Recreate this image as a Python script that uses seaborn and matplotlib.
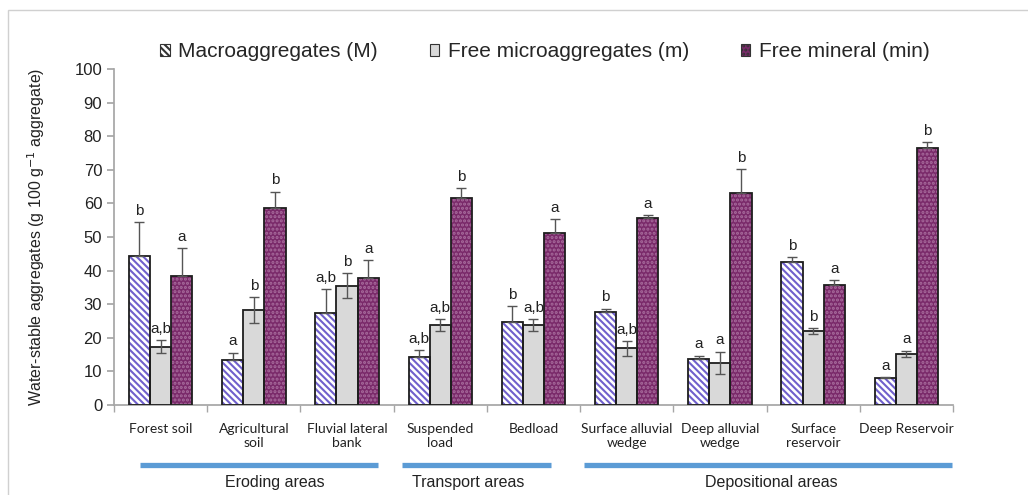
"""Water-stable aggregate fractions along the eroding-transport-depositional sequence."""

import matplotlib
matplotlib.use("Agg")
import matplotlib.pyplot as plt
import pandas as pd
import seaborn as sns
from matplotlib.patches import Patch, Rectangle

CATEGORIES = [
    "Forest soil",
    "Agricultural\nsoil",
    "Fluvial lateral\nbank",
    "Suspended\nload",
    "Bedload",
    "Surface alluvial\nwedge",
    "Deep alluvial\nwedge",
    "Surface\nreservoir",
    "Deep Reservoir",
]
SERIES = ["Macroaggregates (M)", "Free microaggregates (m)", "Free mineral (min)"]

macro = [44.3, 13.4, 27.5, 14.4, 24.7, 27.6, 13.7, 42.6, 7.9]
macro_err = [10.2, 2.2, 6.9, 2.0, 4.8, 1.1, 1.0, 1.5, 0.3]
micro = [17.4, 28.3, 35.5, 23.8, 23.8, 16.9, 12.6, 22.0, 15.2]
micro_err = [2.0, 3.9, 3.7, 1.8, 1.8, 2.2, 3.3, 0.8, 1.0]
mineral = [38.4, 58.5, 37.7, 61.7, 51.1, 55.6, 63.0, 35.6, 76.6]
mineral_err = [8.2, 5.0, 5.5, 2.8, 4.2, 0.9, 7.2, 1.6, 1.6]

macro_letters = ["b", "a", "a,b", "a,b", "b", "b", "a", "b", "a"]
micro_letters = ["a,b", "b", "b", "a,b", "a,b", "a,b", "a", "b", "a"]
mineral_letters = ["a", "b", "a", "b", "a", "a", "b", "a", "b"]

GROUPS = ["Eroding areas", "Transport areas", "Depositional areas"]
# line spans and label centres in category units (layout only)
GROUP_SPANS = [(-0.22, 2.33), (2.59, 4.19), (4.54, 8.49)]
GROUP_LABEL_X = [1.22, 3.30, 6.55]

# style per series: face, hatch colour, hatch, upper-only error bars
STYLES = [
    ("white", "#7060cc", "\\\\\\\\\\", True),
    ("#d9d9d9", "#d9d9d9", None, False),
    ("#7a2a6a", "#a86c9d", "....", True),
]


def main() -> None:
    sns.set_theme(style="white")
    plt.rcParams["font.family"] = ["Liberation Sans", "DejaVu Sans"]
    plt.rcParams["hatch.linewidth"] = 1.5

    values = [macro, micro, mineral]
    errors = [macro_err, micro_err, mineral_err]
    letters = [macro_letters, micro_letters, mineral_letters]

    df = pd.DataFrame(
        {
            "site": CATEGORIES * 3,
            "fraction": [s for s in SERIES for _ in CATEGORIES],
            "value": macro + micro + mineral,
        }
    )

    fig = plt.figure(figsize=(10.28, 4.95), dpi=100)
    ax = fig.add_axes([0.1109, 0.1818, 0.8161, 0.6788])

    sns.barplot(
        data=df, x="site", y="value", hue="fraction", order=CATEGORIES,
        hue_order=SERIES, palette=[s[0] for s in STYLES], width=0.68, gap=0,
        errorbar=None, legend=False, ax=ax,
    )

    for cont, (face, hcol, hatch, upper_only), vals, errs, labs in zip(
        ax.containers, STYLES, values, errors, letters
    ):
        xs = []
        for bar in cont:
            bar.set_facecolor(face)
            bar.set_edgecolor(hcol)
            bar.set_linewidth(0)
            if hatch:
                bar.set_hatch(hatch)
            ax.add_patch(Rectangle(bar.get_xy(), bar.get_width(), bar.get_height(),
                                   fill=False, ec="#1e1e1e", lw=1.3, zorder=3))
            xs.append(bar.get_x() + bar.get_width() / 2)
        yerr = [[0] * len(errs), errs] if upper_only else errs
        ax.errorbar(xs, vals, yerr=yerr, fmt="none", ecolor="#555555",
                    elinewidth=1, capsize=3.5, capthick=1, zorder=4)
        for x, v, e, lab in zip(xs, vals, errs, labs):
            ax.annotate(lab, (x, v + e), xytext=(0, 3), textcoords="offset points",
                        ha="center", va="bottom", fontsize=11, color="#222222")

    ax.set_ylim(0, 100)
    ax.set_xlim(-0.5, len(CATEGORIES) - 0.5)
    ax.set_yticks(range(0, 101, 10))
    ax.set_xlabel("")
    ax.set_ylabel("Water-stable aggregates (g 100 g$^{-1}$ aggregate)", fontsize=11.5,
                  color="#222222")
    ax.yaxis.set_label_coords(-0.08, 0.5)
    for side in ["top", "right"]:
        ax.spines[side].set_visible(False)
    for side in ["left", "bottom"]:
        ax.spines[side].set_color("#a6a6a6")
    ax.tick_params(axis="y", left=True, length=5, color="#a6a6a6", labelsize=12,
                   labelcolor="#222222", direction="out")
    ax.set_xticks([i - 0.5 for i in range(len(CATEGORIES) + 1)], minor=True)
    ax.tick_params(axis="x", which="minor", bottom=True, length=5, color="#a6a6a6",
                   direction="out")
    ax.tick_params(axis="x", which="major", bottom=False, pad=7)
    for lbl in ax.get_xticklabels():
        lbl.set_fontfamily(["Lato", "DejaVu Sans"])
        lbl.set_fontsize(10)
        lbl.set_color("#222222")
        lbl.set_verticalalignment("top")

    trans = ax.get_xaxis_transform()
    for name, (x0, x1), xc in zip(GROUPS, GROUP_SPANS, GROUP_LABEL_X):
        ax.plot([x0, x1], [-0.179, -0.179], transform=trans, color="#5b9bd5",
                lw=3.8, clip_on=False, solid_capstyle="butt")
        ax.text(xc, -0.232, name, transform=trans, ha="center", va="center",
                fontsize=11.5, color="#222222")

    handles = [
        Patch(facecolor=face, edgecolor=hcol, hatch=hatch, lw=0)
        for face, hcol, hatch, _ in STYLES
    ]
    leg = fig.legend(handles, SERIES, loc="center", bbox_to_anchor=(0.530, 0.895),
                     ncol=3, frameon=False, fontsize=15, handlelength=0.45,
                     handleheight=0.45, handletextpad=0.4, columnspacing=2.5)
    for h in leg.legend_handles:
        h.set_edgecolor("#333333")
        h.set_linewidth(0.8)

    # thin grey frame of the original screenshot
    fig.patches.append(Rectangle((0.0078, -0.1), 1.5, 1.0798, transform=fig.transFigure,
                                 fill=False, ec="#d0d0d0", lw=1))

    fig.savefig("out.png", dpi=100)


if __name__ == "__main__":
    main()
